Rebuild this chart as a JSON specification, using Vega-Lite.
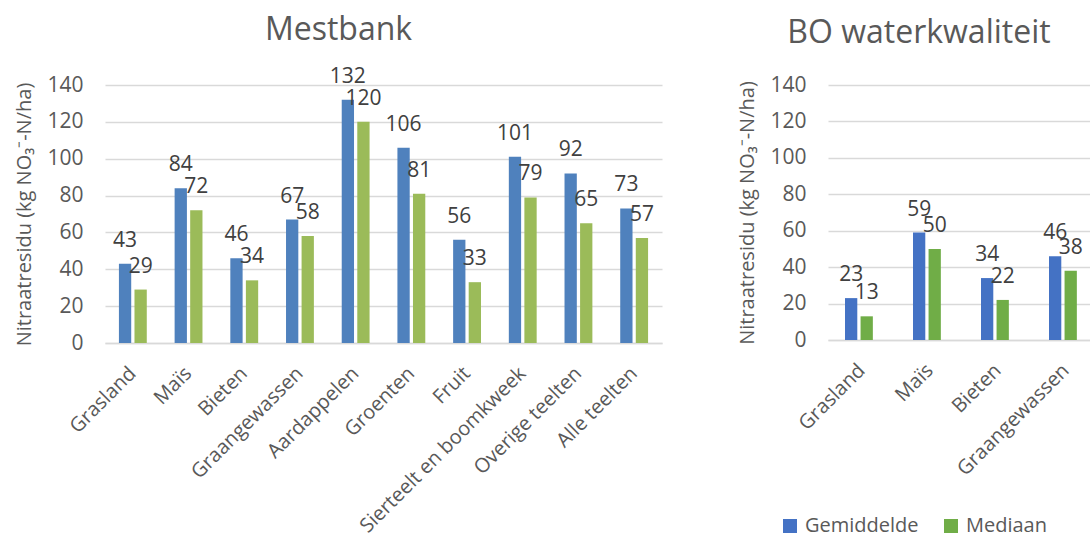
{
  "$schema": "https://vega.github.io/schema/vega-lite/v6.json",
  "padding": {"left": 14, "top": 13, "right": 0, "bottom": 0},
  "spacing": 75,
  "background": "white",
  "config": {
    "font": "Open Sans",
    "view": {"stroke": null},
    "title": {"fontSize": 32, "fontWeight": "normal", "color": "#595959", "font": "Open Sans", "frame": "bounds"},
    "axis": {"labelFont": "Open Sans", "titleFont": "Open Sans", "labelColor": "#595959", "titleColor": "#595959", "labelFontSize": 21, "titleFontSize": 20, "titleFontWeight": "normal"},
    "legend": {"labelFont": "Open Sans", "labelColor": "#595959", "labelFontSize": 20}
  },
  "resolve": {"scale": {"color": "independent"}},
  "datasets": {
    "mest": [
      {"teelt": "Grasland", "stat": "Gemiddelde", "waarde": 43},
      {"teelt": "Grasland", "stat": "Mediaan", "waarde": 29},
      {"teelt": "Maïs", "stat": "Gemiddelde", "waarde": 84},
      {"teelt": "Maïs", "stat": "Mediaan", "waarde": 72},
      {"teelt": "Bieten", "stat": "Gemiddelde", "waarde": 46},
      {"teelt": "Bieten", "stat": "Mediaan", "waarde": 34},
      {"teelt": "Graangewassen", "stat": "Gemiddelde", "waarde": 67},
      {"teelt": "Graangewassen", "stat": "Mediaan", "waarde": 58},
      {"teelt": "Aardappelen", "stat": "Gemiddelde", "waarde": 132},
      {"teelt": "Aardappelen", "stat": "Mediaan", "waarde": 120},
      {"teelt": "Groenten", "stat": "Gemiddelde", "waarde": 106},
      {"teelt": "Groenten", "stat": "Mediaan", "waarde": 81},
      {"teelt": "Fruit", "stat": "Gemiddelde", "waarde": 56},
      {"teelt": "Fruit", "stat": "Mediaan", "waarde": 33},
      {"teelt": "Sierteelt en boomkweek", "stat": "Gemiddelde", "waarde": 101},
      {"teelt": "Sierteelt en boomkweek", "stat": "Mediaan", "waarde": 79},
      {"teelt": "Overige teelten", "stat": "Gemiddelde", "waarde": 92},
      {"teelt": "Overige teelten", "stat": "Mediaan", "waarde": 65},
      {"teelt": "Alle teelten", "stat": "Gemiddelde", "waarde": 73},
      {"teelt": "Alle teelten", "stat": "Mediaan", "waarde": 57}
    ],
    "bo": [
      {"teelt": "Grasland", "stat": "Gemiddelde", "waarde": 23},
      {"teelt": "Grasland", "stat": "Mediaan", "waarde": 13},
      {"teelt": "Maïs", "stat": "Gemiddelde", "waarde": 59},
      {"teelt": "Maïs", "stat": "Mediaan", "waarde": 50},
      {"teelt": "Bieten", "stat": "Gemiddelde", "waarde": 34},
      {"teelt": "Bieten", "stat": "Mediaan", "waarde": 22},
      {"teelt": "Graangewassen", "stat": "Gemiddelde", "waarde": 46},
      {"teelt": "Graangewassen", "stat": "Mediaan", "waarde": 38}
    ]
  },
  "hconcat": [
    {
      "title": {"text": "Mestbank", "offset": 19},
      "width": 557,
      "height": 258,
      "data": {"name": "mest"},
      "encoding": {
        "x": {"field": "teelt", "type": "nominal", "sort": null,
          "scale": {"paddingInner": 0.5, "paddingOuter": 0.25},
          "axis": {"title": null, "labelAngle": -45, "labelAlign": "right", "labelBaseline": "middle", "labelPadding": 27, "labelFontSize": 20, "ticks": false, "domainColor": "#D9D9D9", "domainWidth": 1.3, "labelLimit": 400}},
        "xOffset": {"field": "stat", "type": "nominal", "sort": ["Gemiddelde", "Mediaan"], "scale": {"paddingInner": 0.21}},
        "y": {"field": "waarde", "type": "quantitative", "scale": {"domain": [0, 140]},
          "axis": {"title": "Nitraatresidu (kg NO₃⁻-N/ha)", "values": [0, 20, 40, 60, 80, 100, 120, 140], "domain": false, "ticks": false, "gridColor": "#D9D9D9", "gridWidth": 1.3, "labelPadding": 22, "titlePadding": 12}},
        "color": {"field": "stat", "type": "nominal", "scale": {"domain": ["Gemiddelde", "Mediaan"], "range": ["#4F81BD", "#9BBB59"]}, "legend": null}
      },
      "layer": [
        {"mark": {"type": "bar"}},
        {"mark": {"type": "text", "baseline": "alphabetic", "dy": -17, "fontSize": 21, "font": "Open Sans"},
          "encoding": {"text": {"field": "waarde", "type": "quantitative"}, "color": {"value": "#404040"}}}
      ]
    },
    {
      "title": {"text": "BO waterkwaliteit", "offset": 24},
      "width": 272,
      "height": 255,
      "data": {"name": "bo"},
      "encoding": {
        "x": {"field": "teelt", "type": "nominal", "sort": null,
          "scale": {"paddingInner": 0.5, "paddingOuter": 0.25},
          "axis": {"title": null, "labelAngle": -45, "labelAlign": "right", "labelBaseline": "middle", "labelPadding": 27, "labelFontSize": 20, "ticks": false, "domainColor": "#D9D9D9", "domainWidth": 1.3, "labelLimit": 400}},
        "xOffset": {"field": "stat", "type": "nominal", "sort": ["Gemiddelde", "Mediaan"], "scale": {"paddingInner": 0.21}},
        "y": {"field": "waarde", "type": "quantitative", "scale": {"domain": [0, 140]},
          "axis": {"title": "Nitraatresidu (kg NO₃⁻-N/ha)", "values": [0, 20, 40, 60, 80, 100, 120, 140], "domain": false, "ticks": false, "gridColor": "#D9D9D9", "gridWidth": 1.3, "labelPadding": 22, "titlePadding": 12}},
        "color": {"field": "stat", "type": "nominal", "scale": {"domain": ["Gemiddelde", "Mediaan"], "range": ["#4472C4", "#70AD47"]},
          "legend": {"orient": "none", "legendX": -48, "legendY": 431, "direction": "horizontal", "title": null, "symbolType": "square", "symbolSize": 196, "symbolStrokeWidth": 0, "columnPadding": 22, "labelOffset": 5}}
      },
      "layer": [
        {"mark": {"type": "bar"}},
        {"mark": {"type": "text", "baseline": "alphabetic", "dy": -17, "fontSize": 21, "font": "Open Sans"},
          "encoding": {"text": {"field": "waarde", "type": "quantitative"}, "color": {"value": "#404040"}}}
      ]
    }
  ]
}
